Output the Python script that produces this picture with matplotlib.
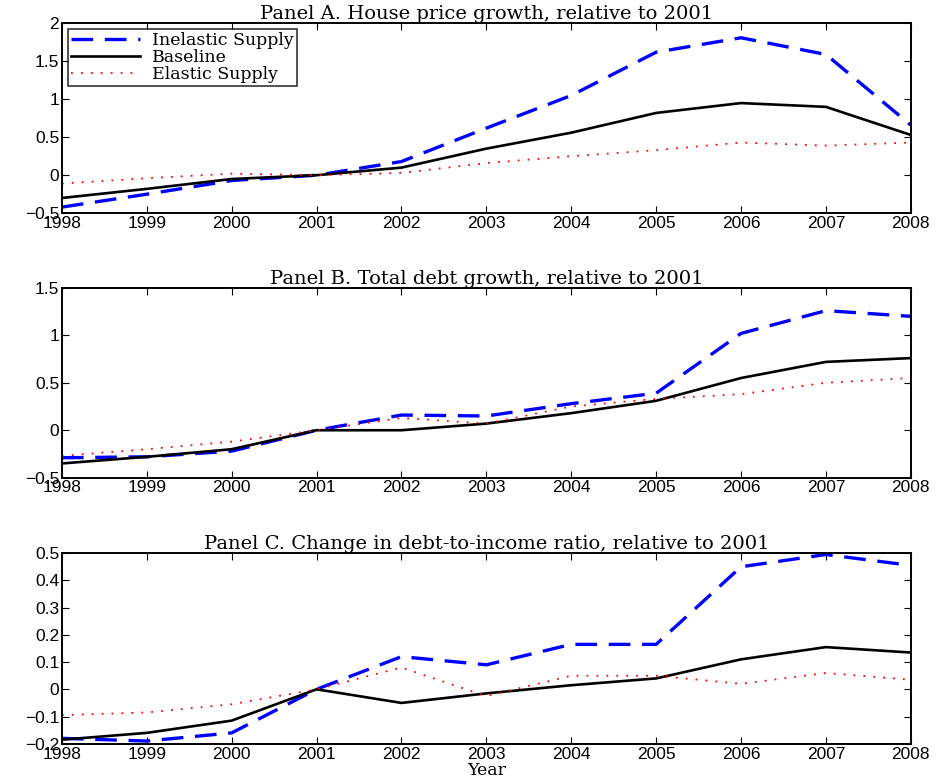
import matplotlib

matplotlib.use("Agg")
import matplotlib.pyplot as plt

years = [1998, 1999, 2000, 2001, 2002, 2003, 2004, 2005, 2006, 2007, 2008]
labels = ["Inelastic Supply", "Baseline", "Elastic Supply"]

# Panel A: house price growth
a_inelastic = [-0.42, -0.25, -0.07, 0.0, 0.18, 0.62, 1.05, 1.62, 1.81, 1.59, 0.66]
a_baseline = [-0.30, -0.18, -0.05, 0.0, 0.10, 0.35, 0.56, 0.82, 0.95, 0.90, 0.53]
a_elastic = [-0.11, -0.04, 0.02, 0.0, 0.03, 0.16, 0.25, 0.33, 0.43, 0.39, 0.43]

# Panel B: total debt growth
b_inelastic = [-0.29, -0.28, -0.22, 0.0, 0.16, 0.15, 0.28, 0.39, 1.02, 1.26, 1.20]
b_baseline = [-0.35, -0.28, -0.20, 0.0, 0.0, 0.07, 0.18, 0.31, 0.55, 0.72, 0.76]
b_elastic = [-0.27, -0.20, -0.12, 0.0, 0.13, 0.07, 0.25, 0.33, 0.38, 0.50, 0.55]

# Panel C: change in debt-to-income ratio
c_inelastic = [-0.18, -0.19, -0.16, 0.0, 0.12, 0.09, 0.165, 0.165, 0.45, 0.495, 0.455]
c_baseline = [-0.185, -0.16, -0.115, 0.0, -0.05, -0.015, 0.015, 0.04, 0.11, 0.155, 0.135]
c_elastic = [-0.095, -0.085, -0.055, 0.0, 0.08, -0.025, 0.05, 0.05, 0.02, 0.06, 0.035]

panels = [
    ("Panel A. House price growth, relative to 2001",
     (a_inelastic, a_baseline, a_elastic), (-0.5, 2.0), [-0.5, 0, 0.5, 1, 1.5, 2]),
    ("Panel B. Total debt growth, relative to 2001",
     (b_inelastic, b_baseline, b_elastic), (-0.5, 1.5), [-0.5, 0, 0.5, 1, 1.5]),
    ("Panel C. Change in debt-to-income ratio, relative to 2001",
     (c_inelastic, c_baseline, c_elastic), (-0.2, 0.5),
     [-0.2, -0.1, 0, 0.1, 0.2, 0.3, 0.4, 0.5]),
]

styles = [
    dict(color="#0000ff", ls=(0, (6.5, 3.5)), lw=2.4),
    dict(color="black", ls="-", lw=1.9),
    dict(color="red", ls=(0, (1, 4.5)), lw=1.3),
]

SERIF = "DejaVu Serif"
plt.rcParams["font.family"] = ["Liberation Sans", "DejaVu Sans"]

fig = plt.figure(figsize=(9.38, 7.78), dpi=100)
boxes = [
    [0.066, 0.726, 0.905, 0.244],
    [0.066, 0.386, 0.905, 0.244],
    [0.066, 0.044, 0.905, 0.245],
]

for box, (title, series, ylim, yticks) in zip(boxes, panels):
    ax = fig.add_axes(box)
    for vals, lab, st in zip(series, labels, styles):
        ax.plot(years, vals, label=lab, **st)
    ax.set_xlim(1998, 2008)
    ax.set_ylim(*ylim)
    ax.set_xticks(years)
    ax.set_yticks(yticks)
    ax.set_yticklabels([f"{t:g}".replace("-", "\u2212") for t in yticks])
    ax.tick_params(direction="in", top=True, right=True, labelsize=12.5,
                   length=5)
    ax.tick_params(axis="x", pad=2)
    ax.tick_params(axis="y", pad=2)
    for s in ax.spines.values():
        s.set_linewidth(1.4)
    ax.set_title(title, fontfamily=SERIF, fontsize=14, pad=3)
    if title.startswith("Panel A"):
        leg = ax.legend(loc="upper left", prop=dict(family=SERIF, size=12.5),
                        frameon=True, fancybox=False, edgecolor="black",
                        labelspacing=0.0, borderpad=0.15, handlelength=4.0,
                        handletextpad=0.7, borderaxespad=0.35)
        leg.get_frame().set_linewidth(1.2)
    if title.startswith("Panel C"):
        ax.set_xlabel("Year", fontfamily=SERIF, fontsize=12.5, labelpad=0)

fig.savefig("out.png", dpi=100)
